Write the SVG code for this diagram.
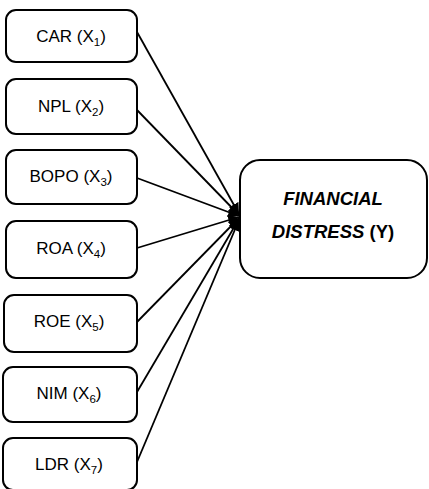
<svg xmlns="http://www.w3.org/2000/svg" width="429" height="489" viewBox="0 0 429 489">
<style>
.box{fill:#fff;stroke:#000;stroke-width:2}
.lbl{font-family:"Liberation Sans",Arial,sans-serif;font-size:17px;fill:#000;text-anchor:middle}
.sub{font-size:11.5px}
.big{font-family:"Liberation Sans",Arial,sans-serif;font-size:18.5px;font-weight:bold;fill:#000;text-anchor:middle}
.conn line{stroke:#000;stroke-width:1.8;marker-end:url(#ah)}
</style>
<defs>
<marker id="ah" viewBox="0 0 10 10" refX="10" refY="5" markerWidth="6" markerHeight="6" orient="auto" markerUnits="strokeWidth">
<path d="M0,0 L10,5 L0,10 z" fill="#000"/>
</marker>
</defs>
<g id="n1"><rect class="box" x="6" y="10" width="131" height="52" rx="10"/><text class="lbl" x="71" y="42">CAR (X<tspan class="sub" dy="4">1</tspan><tspan dy="-4">)</tspan></text></g>
<g id="n2"><rect class="box" x="6" y="79" width="131" height="55" rx="10"/><text class="lbl" x="71" y="112">NPL (X<tspan class="sub" dy="4">2</tspan><tspan dy="-4">)</tspan></text></g>
<g id="n3"><rect class="box" x="6" y="150" width="131" height="54" rx="10"/><text class="lbl" x="71" y="182">BOPO (X<tspan class="sub" dy="4">3</tspan><tspan dy="-4">)</tspan></text></g>
<g id="n4"><rect class="box" x="6" y="221" width="131" height="57" rx="10"/><text class="lbl" x="71" y="254">ROA (X<tspan class="sub" dy="4">4</tspan><tspan dy="-4">)</tspan></text></g>
<g id="n5"><rect class="box" x="4" y="295" width="133" height="57" rx="10"/><text class="lbl" x="69" y="327">ROE (X<tspan class="sub" dy="4">5</tspan><tspan dy="-4">)</tspan></text></g>
<g id="n6"><rect class="box" x="3" y="367" width="134" height="55" rx="10"/><text class="lbl" x="69" y="399">NIM (X<tspan class="sub" dy="4">6</tspan><tspan dy="-4">)</tspan></text></g>
<g id="n7"><rect class="box" x="3" y="438" width="134" height="52" rx="10"/><text class="lbl" x="69" y="470">LDR (X<tspan class="sub" dy="4">7</tspan><tspan dy="-4">)</tspan></text></g>
<g id="y"><rect class="box" x="240" y="160" width="187" height="118" rx="20"/>
<text class="big" x="333" y="205" font-style="italic">FINANCIAL</text>
<text class="big" x="333" y="238"><tspan font-style="italic">DISTRESS</tspan> (Y)</text></g>
<g class="conn">
<line x1="137" y1="32" x2="239" y2="214"/>
<line x1="137" y1="110" x2="239" y2="215"/>
<line x1="137" y1="178" x2="239" y2="216"/>
<line x1="137" y1="248" x2="239" y2="217"/>
<line x1="137" y1="322" x2="239" y2="218"/>
<line x1="137" y1="392" x2="239" y2="219"/>
<line x1="137" y1="462" x2="239" y2="220"/>
</g>
</svg>
